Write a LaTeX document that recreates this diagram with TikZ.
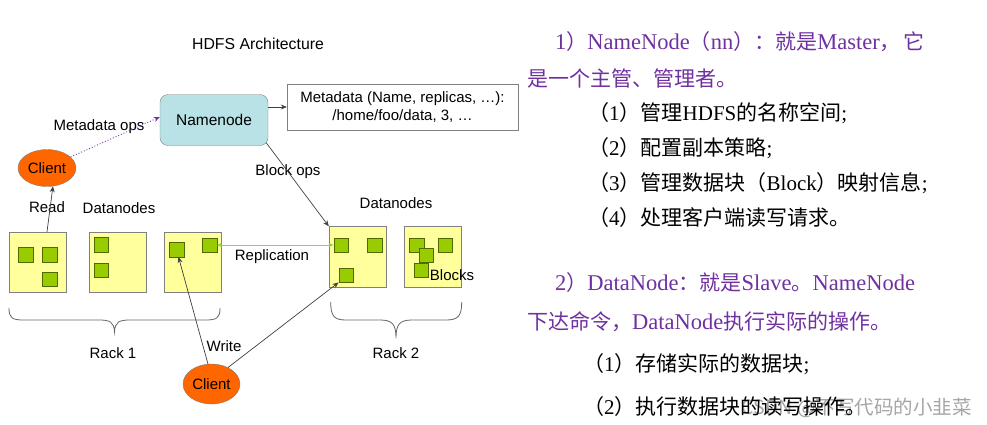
\documentclass[tikz,border=0pt]{standalone}
\usepackage{fontspec}
\setmainfont{Liberation Serif}
\newfontfamily\diagfont{Liberation Sans}
\newfontfamily\cjk{Noto Sans CJK SC}
\usetikzlibrary{arrows.meta,shapes.geometric}
\definecolor{nnfill}{HTML}{B9E2E6}
\definecolor{boxgray}{HTML}{808080}
\definecolor{dnfill}{HTML}{FFFF9C}
\definecolor{blkfill}{HTML}{99CC00}
\definecolor{blkdraw}{HTML}{4F6A00}
\definecolor{clientfill}{HTML}{FF6600}
\definecolor{purpletext}{HTML}{7030A0}
\definecolor{repgreen}{HTML}{99D633}
\newcommand\Z[1]{{\cjk\fontsize{21}{24}\selectfont #1}}
\tikzset{
  lbl/.style={font=\diagfont\fontsize{15}{17}\selectfont, inner sep=0pt},
  namebox/.style={draw=boxgray, fill=nnfill, rounded corners=8pt, minimum width=108pt, minimum height=51pt, inner sep=0pt, font=\diagfont\fontsize{15.5}{17}\selectfont},
  metabox/.style={draw=boxgray, fill=white, minimum width=231pt, minimum height=46pt, inner sep=0pt, align=center, font=\diagfont\fontsize{15}{18.5}\selectfont},
  dnbox/.style={draw=boxgray, fill=dnfill, minimum width=57pt, minimum height=60pt, inner sep=0pt},
  blk/.style={draw=blkdraw, fill=blkfill, minimum size=14.5pt, inner sep=0pt},
  client/.style={ellipse, draw=boxgray, fill=clientfill, inner sep=0pt, font=\diagfont\fontsize{15}{17}\selectfont},
  arr/.style={draw=black!75, line width=0.7pt, -{Stealth[length=6pt,width=5pt]}},
  reparr/.style={draw=repgreen, line width=0.9pt, {Stealth[length=5pt,width=4.5pt]}-{Stealth[length=5pt,width=4.5pt]}},
  metaarr/.style={draw=purpletext, line width=0.9pt, dotted, -{Stealth[length=6pt,width=5pt]}},
  brace/.style={draw=black!60, line width=0.8pt},
  ptext/.style={anchor=base west, inner sep=0pt, text=purpletext, font=\fontsize{22.5}{24}\selectfont},
  btext/.style={anchor=base west, inner sep=0pt, text=black, font=\fontsize{21}{24}\selectfont},
}
\begin{document}
\begin{tikzpicture}[x=1pt,y=-1pt]
\useasboundingbox (0,0) rectangle (987,424);
\fill[white] (0,0) rectangle (987,424);

% title
\node[lbl, font=\diagfont\fontsize{15.8}{17}\selectfont] (title) at (258,44) {HDFS Architecture};

% namenode and metadata
\node[namebox] (nn) at (214,120) {Namenode};
\node[metabox] (meta) at (402.5,107) {Metadata (Name, replicas, \dots):\\/home/foo/data, 3, \dots};
\draw[arr] (nn.east |- meta.west) -- (meta.west);

% rack 1 datanodes
\node[dnbox] (r1a) at (37.5,262) {};
\node[dnbox] (r1b) at (117.5,262) {};
\node[dnbox] (r1c) at (193,262) {};
\node[blk] (r1a1) at (25.5,254.5) {};
\node[blk] (r1a2) at (49.5,254.5) {};
\node[blk] (r1a3) at (49.5,279) {};
\node[blk] (r1b1) at (101,244.5) {};
\node[blk] (r1b2) at (101,270) {};
\node[blk] (r1c1) at (176.5,249.5) {};
\node[blk] (r1c2) at (209.5,245) {};

% rack 2 datanodes
\node[dnbox, minimum height=61pt] (r2a) at (357.5,257) {};
\node[dnbox, minimum height=61pt] (r2b) at (433,257) {};
\node[blk] (r2a1) at (341,245) {};
\node[blk] (r2a2) at (374.5,245) {};
\node[blk] (r2a3) at (346,275) {};
\node[blk] (r2b1) at (416.5,245) {};
\node[blk] (r2b2) at (445,245) {};
\node[blk] (r2b3) at (426,255) {};
\node[blk] (r2b4) at (421,270) {};
\node[lbl] (blocks) at (452,275) {Blocks};

% labels
\node[lbl] (dn1) at (119,208) {Datanodes};
\node[lbl] (dn2) at (396,203) {Datanodes};
\node[lbl] (readl) at (47,207) {Read};
\node[lbl] (metaops) at (99,127) {Metadata ops};
\node[lbl] (blockops) at (288,172) {Block ops};
\node[lbl] (repl) at (272,257) {Replication};
\node[lbl] (writel) at (224,346) {Write};
\node[lbl] (rack1) at (113,353) {Rack 1};
\node[lbl] (rack2) at (396,353) {Rack 2};

% clients
\node[client, minimum width=58pt, minimum height=37pt] (c1) at (47,168) {Client};
\node[client, minimum width=57pt, minimum height=40pt] (c2) at (211.5,384) {Client};

% connectors
\draw[metaarr] (c1.25) -- ([yshift=3pt]nn.west);
\draw[arr] ([xshift=9.5pt]r1a.north) -- (c1.-72);
\draw[arr] ([shift={(-2pt,3pt)}]nn.south east) -- (r2a.north west);
\draw[reparr] (r1c2.east) -- (r2a1.west);
\draw[arr] (c2.100) -- ([xshift=2pt]r1c1.south);
\draw[arr] (c2.45) -- (r2a3.south west);

% braces
\draw[brace] (9,308) .. controls (9,318) and (12,320) .. (24,320)
  -- (99,320) .. controls (110,320) and (114,322) .. (114.5,332)
  .. controls (115,322) and (119,320) .. (130,320)
  -- (205,320) .. controls (217,320) and (220,318) .. (220,308);
\draw[brace] (330.7,302) .. controls (330.7,316) and (334,320) .. (346,320)
  -- (380,320) .. controls (392,320) and (396,324) .. (396,338)
  .. controls (396,324) and (400,320) .. (412,320)
  -- (446,320) .. controls (458,320) and (461.7,316) .. (461.7,302);

% right-hand text
\node[text=black!35, anchor=base east, inner sep=0pt, font=\cjk\fontsize{19.5}{22}\selectfont] (wm) at (972,414) {CSDN @不写代码的小韭菜};

\node[ptext] (t1) at (555,49) {1\Z{）}NameNode\Z{（}nn\Z{）：就是}Master\Z{，}\hspace{3pt}\Z{它}};
\node[ptext] (t2) at (527,86) {\Z{是一个主管、管理者。}};
\node[btext] (t3) at (588,120) {\Z{（}1\Z{）管理}HDFS\Z{的名称空间};};
\node[btext] (t4) at (588,155) {\Z{（}2\Z{）配置副本策略};};
\node[btext] (t5) at (588,190) {\Z{（}3\Z{）管理数据块（}Block\Z{）映射信息};};
\node[btext] (t6) at (588,225) {\Z{（}4\Z{）处理客户端读写请求。}};
\node[ptext] (t7) at (555,290) {2\Z{）}DataNode\Z{：就是}Slave\Z{。}NameNode};
\node[ptext] (t8) at (527,329) {\Z{下达命令，}DataNode\Z{执行实际的操作。}};
\node[btext] (t9) at (583,371) {\Z{（}1\Z{）存储实际的数据块};};
\node[btext] (t10) at (583,414) {\Z{（}2\Z{）执行数据块的读写操作。}};
\end{tikzpicture}
\end{document}
